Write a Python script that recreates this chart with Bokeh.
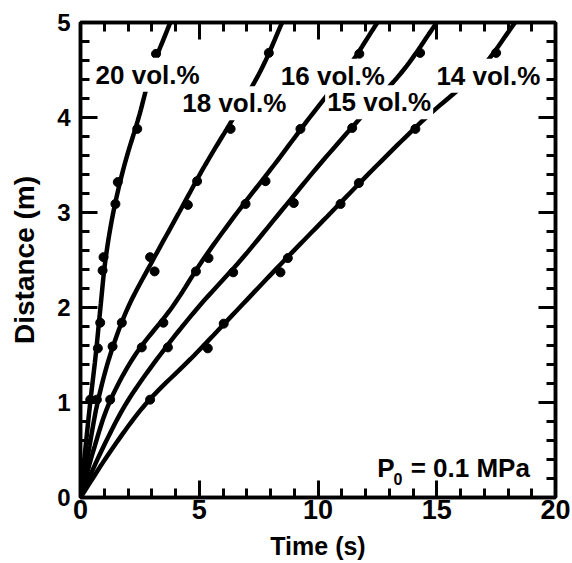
import numpy as np
from bokeh.plotting import figure
from bokeh.models import Range1d, LinearAxis, SingleIntervalTicker, Label
from bokeh.embed import file_html
from bokeh.resources import INLINE

# ---- data ----
series = ["20 vol.%", "18 vol.%", "16 vol.%", "15 vol.%", "14 vol.%"]

# measured points: time (s), distance (m)
t20 = [0.41, 0.73, 0.83, 0.93, 0.97, 1.47, 1.57, 2.39, 3.18]
d20 = [1.03, 1.57, 1.84, 2.39, 2.53, 3.09, 3.32, 3.88, 4.67]
t18 = [0.69, 1.35, 1.74, 2.93, 3.12, 4.52, 4.91, 6.32, 7.93]
d18 = [1.03, 1.59, 1.84, 2.53, 2.38, 3.08, 3.33, 3.88, 4.68]
t16 = [1.25, 2.58, 3.49, 4.86, 5.39, 6.95, 7.79, 9.26, 11.74]
d16 = [1.03, 1.58, 1.84, 2.38, 2.52, 3.09, 3.33, 3.88, 4.67]
t15 = [3.68, 6.43, 8.98, 11.44, 14.3]
d15 = [1.58, 2.37, 3.10, 3.89, 4.68]
t14 = [2.93, 5.36, 6.03, 8.42, 8.73, 10.95, 11.72, 14.1, 17.5]
d14 = [1.03, 1.57, 1.83, 2.37, 2.52, 3.09, 3.31, 3.88, 4.68]

# fitted curves: distance grid and time of each curve at those distances
fit_d = [0.0, 0.5, 1.0, 1.5, 2.0, 2.5, 3.0, 3.5, 4.0, 4.5, 5.0]
fit20 = [0.0, 0.20, 0.41, 0.64, 0.84, 1.05, 1.38, 1.85, 2.45, 3.00, 3.78]
fit18 = [0.0, 0.35, 0.72, 1.25, 2.00, 3.05, 4.15, 5.25, 6.45, 7.60, 8.49]
fit16 = [0.0, 0.55, 1.22, 2.30, 3.85, 5.15, 6.60, 8.15, 9.65, 11.20, 12.50]
fit15 = [0.0, 0.90, 1.95, 3.35, 4.95, 6.75, 8.40, 10.05, 11.80, 13.60, 15.00]
fit14 = [0.0, 1.30, 2.80, 4.80, 6.70, 8.60, 10.55, 12.50, 14.55, 16.80, 18.30]

x_major_step = 5
y_major_step = 1

pts_t = [t20, t18, t16, t15, t14]
pts_d = [d20, d18, d16, d15, d14]
fits = [fit20, fit18, fit16, fit15, fit14]


def catmull(xs, ys, n=12):
    P = np.column_stack([np.asarray(xs, float), np.asarray(ys, float)])
    P = np.vstack([2 * P[0] - P[1], P, 2 * P[-1] - P[-2]])
    out = []
    for i in range(1, len(P) - 2):
        p0, p1, p2, p3 = P[i - 1], P[i], P[i + 1], P[i + 2]
        for s in np.linspace(0, 1, n, endpoint=False):
            s2, s3 = s * s, s * s * s
            out.append(0.5 * ((2 * p1) + (-p0 + p2) * s + (2 * p0 - 5 * p1 + 4 * p2 - p3) * s2
                              + (-p0 + 3 * p1 - 3 * p2 + p3) * s3))
    out.append(P[-2])
    out = np.array(out)
    return out[:, 0], out[:, 1]


FONT = "Liberation Sans"

p = figure(width=572, height=563, x_range=Range1d(0, 20), y_range=Range1d(0, 5),
           output_backend="svg", toolbar_location=None,
           min_border_left=80, min_border_right=17, min_border_top=22, min_border_bottom=66)
p.xgrid.visible = False
p.ygrid.visible = False
p.outline_line_color = "black"
p.outline_line_width = 3.5
p.background_fill_color = "white"

bottom = p.below[0]
left = p.left[0]
bottom.ticker = SingleIntervalTicker(interval=x_major_step, num_minor_ticks=5)
left.ticker = SingleIntervalTicker(interval=y_major_step, num_minor_ticks=5)
top = LinearAxis(ticker=SingleIntervalTicker(interval=x_major_step, num_minor_ticks=5))
right = LinearAxis(ticker=SingleIntervalTicker(interval=y_major_step, num_minor_ticks=5))
p.add_layout(top, "above")
p.add_layout(right, "right")

for ax in [bottom, left, top, right]:
    ax.axis_line_width = 3.5
    ax.major_tick_line_width = 3
    ax.minor_tick_line_width = 3
    ax.major_tick_in = 17
    ax.major_tick_out = 0
    ax.minor_tick_in = 9
    ax.minor_tick_out = 0
    ax.major_label_text_font = FONT
    ax.major_label_text_font_style = "bold"
    ax.major_label_text_color = "black"
for ax in [top, right]:
    ax.major_label_text_color = None
    ax.major_label_text_font_size = "1px"
    ax.major_label_standoff = 0

bottom.major_label_text_font_size = "27px"
left.major_label_text_font_size = "24px"
bottom.major_label_standoff = 2
left.major_label_standoff = 10
bottom.axis_label = "Time (s)"
left.axis_label = "Distance (m)"
for ax in [bottom, left]:
    ax.axis_label_text_font = FONT
    ax.axis_label_text_font_style = "bold"
    ax.axis_label_text_color = "black"
bottom.axis_label_text_font_size = "25px"
left.axis_label_text_font_size = "28px"
bottom.axis_label_standoff = 10
left.axis_label_standoff = 14

for tt, dd, fit in zip(pts_t, pts_d, fits):
    cx, cy = catmull(fit, fit_d)
    p.line(cx, cy, line_width=4.5, line_color="black")
    p.scatter(tt, dd, size=9, fill_color="black", line_color="black")

label_pos = [(0.55, 4.45), (4.2, 4.15), (8.35, 4.44), (10.3, 4.16), (14.9, 4.44)]
# lower-row labels first, then upper-row labels, so no box hides another text
for i in [1, 3, 0, 2, 4]:
    lx, ly = label_pos[i]
    p.add_layout(Label(x=lx, y=ly, text=series[i], text_font=FONT, text_font_style="bold",
                       text_font_size="26px", text_color="black", text_align="left",
                       text_baseline="middle", background_fill_color="white", padding=2))

p.add_layout(Label(x=12.49, y=0.314, text="P", text_font=FONT, text_font_style="bold",
                   text_font_size="26px", text_color="black", text_align="left",
                   text_baseline="alphabetic"))
p.add_layout(Label(x=13.18, y=0.195, text="0", text_font=FONT, text_font_style="bold",
                   text_font_size="16px", text_color="black", text_align="left",
                   text_baseline="alphabetic"))
p.add_layout(Label(x=13.9, y=0.314, text="= 0.1 MPa", text_font=FONT, text_font_style="bold",
                   text_font_size="26px", text_color="black", text_align="left",
                   text_baseline="alphabetic"))

open("out.html", "w").write(file_html(p, INLINE))
